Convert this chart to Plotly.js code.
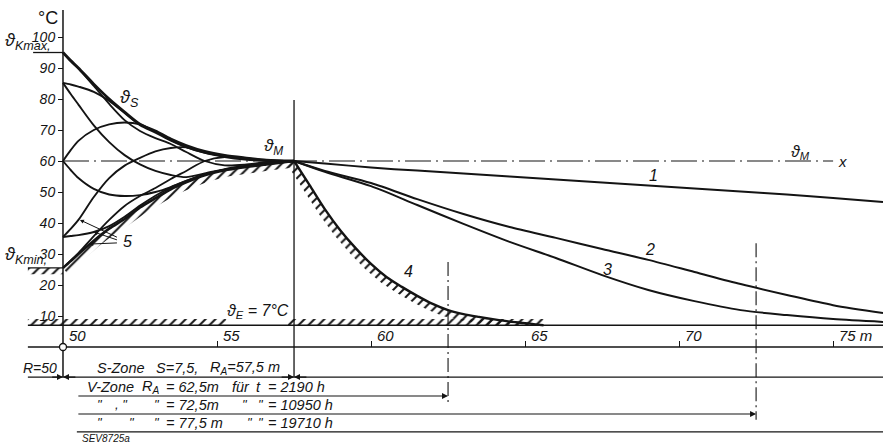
<!DOCTYPE html>
<html>
<head>
<meta charset="utf-8">
<script src="https://cdn.plot.ly/plotly-3.0.1.min.js"></script>
<style>
html,body{margin:0;padding:0;background:#fff;}
#chart{width:883px;height:448px;}
</style>
</head>
<body>
<div id="chart"></div>
<script>
// radius r in m, temperature in °C

// S-Zone, r = 50 ... 57.5 m
const rLeft = [50, 50.25, 50.5, 51, 51.5, 52, 52.5, 53, 53.5, 54, 54.6, 55.25, 55.9, 56.6, 57.5];
const thetaS = [95, 92.4, 90.0, 84.8, 80.0, 75.8, 71.9, 69.7, 67.1, 65.0, 63.1, 61.8, 61.0, 60.3, 60];
const thetaMinEnv = [25.5, 27.7, 30.0, 34.3, 38.2, 41.3, 45.0, 48.0, 50.9, 53.1, 55.4, 57.0, 58.0, 58.9, 60];
const from95 = [95, 92.1, 89.8, 84.2, 78.4, 73.2, 69.7, 67.4, 65.5, 62.9, 60, 58.6, 58.8, 59.6, 60];
const from85up = [85.2, 84.7, 84.0, 82.3, 79.4, 75.5, 71.6, 69.2, 66.6, 64.5, 62.7, 61.5, 60.7, 60.2, 60];
const from85down = [85.2, 81.6, 78.2, 71.5, 66.1, 61.9, 58.9, 56.8, 55.5, 54.8, 56.0, 57.4, 58.4, 59.2, 60];
const from60up = [60, 63.5, 66.5, 70.0, 71.8, 72.4, 71.8, 69.5, 66.8, 64.5, 62.6, 61.3, 60.5, 60.1, 60];
const from60down = [60, 57.1, 54.5, 51.0, 49.2, 48.7, 49.0, 50.0, 51.6, 53.6, 55.7, 57.2, 58.3, 59.1, 60];
const from35up = [35.5, 38.1, 41.0, 48.4, 54.5, 58.5, 61.0, 63.1, 64.2, 64.4, 62.9, 61.6, 60.8, 60.2, 60];
const from35flat = [35.5, 35.8, 36.1, 37.1, 39.0, 42.0, 45.6, 48.8, 51.5, 53.6, 55.7, 57.2, 58.2, 59.0, 60];
const from25 = [25.5, 27.9, 30.3, 35.8, 41.0, 45.5, 48.7, 51.3, 54.2, 56.8, 60, 61.3, 60.9, 60.2, 60];

// V-Zone, r = 57.5 ... 76.6 m
const rRight = [57.5, 58.5, 60, 61.5, 63, 64.5, 66, 67.5, 69, 70.5, 72, 73.5, 75, 76.62];
const curve1 = [60, 59.2, 57.9, 56.9, 56.0, 55.0, 54.0, 53.1, 52.1, 51.1, 50.2, 49.2, 48.1, 46.8];
const curve2 = [60, 56.8, 52.9, 47.7, 42.9, 38.7, 35.2, 31.6, 28.1, 24.2, 20.3, 16.8, 13.5, 11.0];
const curve3 = [60, 56.5, 51.9, 45.8, 39.7, 33.9, 28.7, 23.2, 18.4, 14.8, 11.9, 10.3, 9.0, 8.1];
const r4 = [57.5, 58, 58.5, 59, 59.5, 60, 60.5, 61, 61.5, 62, 62.5, 63, 63.5, 64, 64.5, 65, 65.6];
const curve4 = [60, 52.3, 44.5, 37.7, 31.9, 26.8, 22.6, 19.4, 16.5, 13.9, 11.9, 10.6, 9.7, 8.9, 8.2, 7.7, 7.0];

const thetaKmax = 95, thetaKmin = 25.5, thetaM = 60, thetaE = 7;
const rInner = 50, rS = 57.5, rA = [62.5, 72.5, 77.5];

const xTickVals = [50, 55, 60, 65, 70, 75];
const xTickText = ['50', '55', '60', '65', '70', '75 m'];
const yTickVals = [10, 20, 30, 40, 50, 60, 70, 80, 90, 100];

const ink = '#141414';
const fam = 'Liberation Sans, DejaVu Sans, sans-serif';
function it(size){ return {family: fam, size: size, color: ink, style: 'italic'}; }

function curve(x, y, w){
  return {x: x, y: y, mode: 'lines', hoverinfo: 'skip',
    line: {color: ink, width: w, shape: 'spline', smoothing: 0.8}};
}
// hatched strip: the curve plus a shifted copy of it, filled with a pattern
function band(x, y, dx, dy, shape, floor){
  const bx = x.concat(x.map(v => v + dx).reverse());
  const by = y.concat(y.map(v => Math.max(v + dy, floor)).reverse());
  return {x: bx, y: by, mode: 'lines', fill: 'toself', hoverinfo: 'skip',
    line: {width: 0, color: 'rgba(0,0,0,0)'}, fillcolor: 'rgba(0,0,0,0)',
    fillpattern: {shape: shape, size: 7, solidity: 0.28, fgcolor: ink, bgcolor: 'rgba(0,0,0,0)'}};
}

const data = [
  band(rLeft, thetaMinEnv, 0.15, -1.9, '/', -99),
  band(r4, curve4, -0.17, -1.9, '/', thetaE),
  band([48.86, 55.3], [thetaE, thetaE], 0, 2, '/', -99),
  band([57.3, 65.6], [thetaE, thetaE], 0, 2, '/', -99),
  band([48.86, rInner], [thetaKmin, thetaKmin], 0, -2, '/', -99),
  curve(rLeft, from85down, 1.9),
  curve(rLeft, from60down, 1.9),
  curve(rLeft, from35flat, 1.9),
  curve(rLeft, from25, 1.8),
  curve(rLeft, from35up, 1.9),
  curve(rLeft, from60up, 1.9),
  curve(rLeft, from85up, 2.0),
  curve(rLeft, from95, 1.8),
  curve(rLeft, thetaS, 2.8),
  curve(rLeft, thetaMinEnv, 2.6),
  curve(rRight, curve1, 2.0),
  curve(rRight, curve2, 2.0),
  curve(rRight, curve3, 2.0),
  curve(r4, curve4, 2.4)
];

function hline(y, x0, x1, dash, w){
  return {type: 'line', xref: 'x', yref: 'y', x0: x0, x1: x1, y0: y, y1: y,
    line: {color: ink, width: w || 1.2, dash: dash || 'solid'}};
}
function vline(x, y0, y1, dash, w){
  return {type: 'line', xref: 'x', yref: 'y', x0: x, x1: x, y0: y0, y1: y1,
    line: {color: ink, width: w || 1.2, dash: dash || 'solid'}};
}

const rowR = -9.7, row1 = -15.8, row2 = -21.6, row3 = -27.4;

const shapes = [
  vline(rInner, rowR, 108.7, 'solid', 1.5),
  vline(rS, rowR, 79.7, 'solid', 1.3),
  vline(rA[0], 27.4, -18.7, '14px,4px,2px,4px', 1.1),
  vline(rA[1], 33.5, -23.5, '14px,4px,2px,4px', 1.1),
  hline(thetaM, rInner, 75.0, '26px,5px,2px,5px', 1.1),
  hline(thetaKmax, 49.03, rInner, 'solid', 1.3),
  hline(thetaKmin, 48.86, rInner, 'solid', 1.3),
  hline(thetaE, 48.86, 77, 'solid', 1.5),
  hline(0, 48.86, 77, 'solid', 1.3),
  hline(rowR, 48.86, 77, 'solid', 1.3),
  hline(row3, 50.45, 77, 'solid', 1.2),
  {type: 'circle', xref: 'x', yref: 'y', xsizemode: 'pixel', ysizemode: 'pixel',
   xanchor: rInner, yanchor: 0, x0: -3.5, x1: 3.5, y0: -3.5, y1: 3.5,
   fillcolor: '#fff', line: {color: ink, width: 1.3}}
];

const ann = [];
function txt(x, y, text, size, xa, extra){
  ann.push(Object.assign({x: x, y: y, text: text, showarrow: false, font: it(size),
    xanchor: xa || 'center', yanchor: 'middle'}, extra || {}));
}
function arrow(x, y, ax, ay, w, s){
  ann.push({x: x, y: y, ax: ax, ay: ay, axref: 'x', ayref: 'y', text: '', showarrow: true,
    arrowhead: 2, arrowsize: s || 1, arrowwidth: w || 1.2, arrowcolor: ink, standoff: 0});
}

xTickVals.forEach((v, i) => {
  ann.push({x: v + 0.12, y: 0, text: xTickText[i], showarrow: false, font: it(15),
    xanchor: 'left', yanchor: 'bottom', yshift: 1});
});

txt(49.5, 106.1, '°C', 17, 'center', {font: {family: fam, size: 18, color: ink}});
txt(48.06, thetaKmax - 0.9, 'ϑ<sub>Kmax,</sub>', 18, 'left', {yanchor: 'bottom'});
txt(48.06, thetaKmin - 0.4, 'ϑ<sub>Kmin,</sub>', 18, 'left', {yanchor: 'bottom'});
txt(52.15, 80.2, 'ϑ<sub>S</sub>', 18);
txt(56.82, 64.4, 'ϑ<sub>M</sub>', 17);
txt(73.95, 62.8, 'ϑ<sub>M</sub>', 16);
txt(75.3, 59.8, 'x', 15);
txt(56.33, 11.3, 'ϑ<sub>E</sub> = 7°C', 16);
txt(69.16, 55.4, '1', 16);
txt(69.06, 31.4, '2', 16);
txt(67.66, 24.9, '3', 16);
txt(61.2, 24.3, '4', 16);
txt(52.1, 33.9, '5', 16);

// leaders from label 5
arrow(50.55, 41.0, 51.8, 35.2, 1, 0.8);
arrow(51.0, 37.1, 51.8, 34.4, 1, 0.8);
arrow(50.85, 33.2, 51.8, 33.6, 1, 0.8);

// dimension rows
txt(49.25, -6.7, 'R=50', 14);
arrow(rInner, rowR, rInner + 0.45, rowR, 1.2, 1);
arrow(rInner, rowR, rInner - 0.4, rowR, 1.2, 1);
arrow(rS, rowR, rS - 0.45, rowR, 1.2, 1);
arrow(rS, rowR, rS + 0.45, rowR, 1.2, 1);
arrow(rA[0], row1, 50.45, row1, 1.1, 1.1);
arrow(rA[1], row2, 50.45, row2, 1.1, 1.1);

txt(51.04, -6.7, 'S-Zone', 14.5, 'left');
txt(52.96, -6.7, 'S=7,5,', 14.5, 'left');
txt(54.71, -6.7, 'R<sub>A</sub>=57,5 m', 14.5, 'left');

txt(50.71, -12.9, 'V-Zone', 14.5, 'left');
txt(52.5, -12.9, 'R<sub>A</sub>', 14.5, 'left');
txt(53.27, -12.9, '= 62,5m', 14.5, 'left');
txt(55.42, -12.9, 'für', 14.5, 'left');
txt(56.2, -12.9, 't', 14.5, 'left');
txt(56.6, -12.9, '= 2190 h', 14.5, 'left');

txt(51.04, -18.7, '"', 13, 'left');
txt(51.62, -18.7, ', "', 13, 'left');
txt(52.9, -18.7, '"', 13, 'left');
txt(53.27, -18.7, '= 72,5m', 14.5, 'left');
txt(55.75, -18.7, '"', 13, 'left');
txt(56.25, -18.7, '"', 13, 'left');
txt(56.6, -18.7, '= 10950 h', 14.5, 'left');

txt(51.04, -24.5, '"', 13, 'left');
txt(52.08, -24.5, '"', 13, 'left');
txt(52.9, -24.5, '"', 13, 'left');
txt(53.27, -24.5, '= 77,5 m', 14.5, 'left');
txt(55.91, -24.5, '"', 13, 'left');
txt(56.25, -24.5, '"', 13, 'left');
txt(56.6, -24.5, '= 19710 h', 14.5, 'left');

txt(50.55, -29.6, 'SEV8725a', 10, 'left');

const layout = {
  width: 883, height: 448,
  margin: {l: 0, r: 0, t: 0, b: 0},
  paper_bgcolor: '#fff', plot_bgcolor: '#fff',
  showlegend: false,
  font: {family: fam, color: ink},
  xaxis: {range: [47.955, 76.62], anchor: 'free', position: 1 - 347 / 448,
    showgrid: false, zeroline: false, showline: false,
    ticks: 'inside', ticklen: 6, tickwidth: 1, tickcolor: ink,
    tickvals: xTickVals.slice(1), showticklabels: false, fixedrange: true},
  yaxis: {range: [-32.58, 111.94], anchor: 'free', position: 63 / 883,
    showgrid: false, zeroline: false, showline: false,
    ticks: 'outside', ticklen: 5, tickwidth: 1, tickcolor: ink,
    tickvals: yTickVals, tickfont: it(14), fixedrange: true},
  shapes: shapes,
  annotations: ann
};

Plotly.newPlot('chart', data, layout, {staticPlot: true, displayModeBar: false});
</script>
</body>
</html>
